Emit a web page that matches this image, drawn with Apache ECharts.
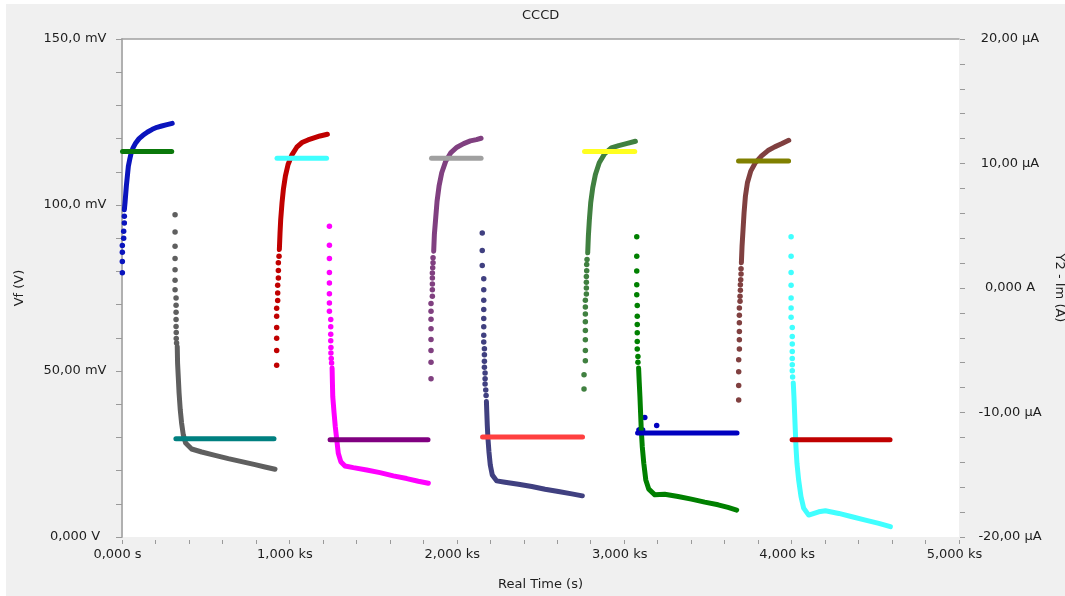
<!DOCTYPE html>
<html>
<head>
<meta charset="utf-8">
<title>CCCD</title>
<script src="https://cdn.jsdelivr.net/npm/echarts@6/dist/echarts.min.js"></script>
<style>
  html, body { margin: 0; padding: 0; background: #fff; }
  #main { position: absolute; left: 6px; top: 4px; width: 1059px; height: 592px; background: #f0f0f0; }
</style>
</head>
<body>
<div id="main"></div>
<script>
// tick labels
var timeLabels = ['0,000 s', '1,000 ks', '2,000 ks', '3,000 ks', '4,000 ks', '5,000 ks'];
var vfLabels = ['0,000 V', '50,00 mV', '100,0 mV', '150,0 mV'];
var imLabels = ['-20,00 µA', '-10,00 µA', '0,000 A', '10,00 µA', '20,00 µA'];

// t in s, Vf in mV, Im in µA
// cycle 1
var c1ChargeDots = [[2,79.6],[2,83.0],[2,85.8],[2,87.8],[10,90.0],[10,92.1],[14,94.6],[14,96.6]];
var c1Charge = [[14,98.6],[18,100.7],[22,103.2],[26,105.7],[30,107.7],[34,109.7],[38,111.7],[46,113.7],[54,115.5],[66,117.2],[82,118.7],[102,120.0],[125,121.0],[153,122.0],[181,122.8],[209,123.4],[237,123.8],[269,124.2],[300,124.6]];
var c1ChargeI = [[3,10.96],[297,10.96]];
var c1DischargeDots = [[317,97.1],[317,91.9],[317,87.6],[317,83.9],[317,80.5],[317,77.3],[317,74.5],[323,72.0],[323,69.8],[323,67.7],[323,65.5],[323,63.4],[324,61.6],[324,59.8],[326,58.4]];
var c1Discharge = [[330,57.4],[332,52.4],[336,48.4],[341,43.3],[348,38.3],[356,34.3],[366,30.8],[380,28.3],[416,26.5],[476,25.6],[556,24.6],[635,23.6],[715,22.7],[795,21.8],[854,21.1],[914,20.4]];
var c1DischargeI = [[322,-12.1],[908,-12.1]];

// cycle 2
var c2ChargeDots = [[924,51.7],[924,56.2],[924,59.9],[924,63.1],[924,66.5],[924,68.9],[930,71.2],[930,73.5],[930,75.8],[934,78.0],[934,80.3],[934,82.6],[938,84.6]];
var c2Charge = [[940,86.6],[944,91.6],[948,95.6],[956,100.7],[964,104.7],[976,108.7],[992,112.2],[1016,115.2],[1044,117.4],[1075,118.8],[1111,119.6],[1147,120.2],[1183,120.8],[1227,121.3]];
var c2ChargeI = [[926,10.43],[1222,10.43]];
var c2DischargeDots = [[1239,93.6],[1239,87.9],[1239,83.9],[1239,79.7],[1239,76.5],[1239,73.3],[1239,70.5],[1239,68.0],[1247,65.5],[1247,63.3],[1247,61.1],[1247,59.1],[1248,57.1],[1248,55.4],[1250,53.8],[1252,52.4]];
var c2Discharge = [[1255,50.9],[1257,46.4],[1259,42.3],[1267,37.3],[1274,33.3],[1283,29.3],[1292,25.2],[1307,22.7],[1332,21.4],[1382,20.9],[1462,20.2],[1541,19.4],[1621,18.4],[1701,17.6],[1770,16.8],[1830,16.2]];
var c2DischargeI = [[1243,-12.18],[1828,-12.18]];

// cycle 3
var c3ChargeDots = [[1846,47.7],[1846,52.6],[1846,56.2],[1846,59.5],[1846,62.7],[1846,65.6],[1846,68.0],[1846,70.3],[1854,72.5],[1854,74.5],[1854,76.2],[1854,78.0],[1854,79.5],[1856,81.1],[1858,82.6],[1858,84.1]];
var c3Charge = [[1862,86.1],[1866,91.1],[1874,96.1],[1882,101.1],[1894,105.7],[1910,109.7],[1934,113.2],[1965,115.8],[2001,117.4],[2041,118.5],[2081,119.3],[2117,119.7],[2145,120.1]];
var c3ChargeI = [[1849,10.43],[2145,10.43]];
var c3DischargeDots = [[2152,91.6],[2152,86.3],[2152,81.8],[2161,77.8],[2161,74.5],[2161,71.3],[2161,68.5],[2161,65.8],[2161,63.3],[2161,60.8],[2161,58.7],[2165,56.7],[2165,54.9],[2165,52.9],[2165,51.1],[2169,49.4],[2169,47.7],[2169,46.1],[2173,44.3],[2175,42.6]];
var c3Discharge = [[2177,40.8],[2179,37.8],[2182,33.8],[2186,29.8],[2192,25.7],[2200,21.7],[2212,18.7],[2238,16.9],[2288,16.5],[2368,15.9],[2448,15.2],[2527,14.4],[2607,13.7],[2687,13.0],[2750,12.4]];
var c3DischargeI = [[2154,-11.97],[2751,-11.97]];

// cycle 4
var c4ChargeDots = [[2760,44.6],[2760,48.9],[2768,53.1],[2768,56.2],[2768,59.4],[2768,62.2],[2768,64.8],[2768,67.2],[2768,69.3],[2768,71.3],[2774,73.2],[2774,75.0],[2774,76.7],[2774,78.5],[2776,80.2],[2776,82.1],[2778,83.6]];
var c4Charge = [[2782,85.6],[2786,90.6],[2792,95.6],[2800,100.7],[2812,105.2],[2828,109.2],[2851,112.7],[2884,115.5],[2923,117.2],[2967,117.9],[3013,118.5],[3067,119.2]];
var c4ChargeI = [[2763,10.96],[3063,10.96]];
var c4DischargeDots = [[3075,90.4],[3075,84.6],[3075,80.1],[3075,76.0],[3075,73.0],[3078,69.7],[3078,66.5],[3078,64.0],[3078,61.5],[3078,58.9],[3078,56.6],[3082,54.4],[3082,52.6]];
var c4Discharge = [[3086,50.9],[3090,46.4],[3094,42.3],[3098,37.3],[3102,32.3],[3108,27.2],[3117,22.2],[3129,17.2],[3147,14.4],[3183,12.7],[3242,12.9],[3322,12.2],[3401,11.4],[3481,10.5],[3561,9.7],[3620,8.9],[3672,8.1]];
var c4DischargeI = [[3080,-11.65],[3674,-11.65]];
var c4DischargeISpikes = [[3088,-11.4],[3098,-11.35],[3110,-11.4],[3123,-10.4],[3194,-11.05]];

// cycle 5
var c5ChargeDots = [[3684,41.3],[3684,45.6],[3684,49.8],[3684,53.4],[3688,56.6],[3688,59.4],[3688,61.9],[3688,64.5],[3688,66.8],[3688,69.0],[3692,71.0],[3692,72.5],[3694,74.3],[3694,76.0],[3696,77.5],[3698,79.2],[3698,80.8]];
var c5Charge = [[3700,82.6],[3704,87.6],[3710,92.6],[3716,97.6],[3724,102.6],[3736,106.7],[3756,110.2],[3783,112.7],[3819,114.7],[3859,116.4],[3899,117.5],[3943,118.5],[3983,119.5]];
var c5ChargeI = [[3683,10.21],[3982,10.21]];
var c5DischargeDots = [[3997,90.4],[3997,84.6],[3997,79.7],[3997,75.8],[3997,72.0],[3997,69.0],[3997,66.2],[4004,63.1],[4004,60.4],[4004,58.1],[4004,55.9],[4004,53.8],[4004,51.9],[4004,50.1],[4006,48.2]];
var c5Discharge = [[4010,46.4],[4014,42.3],[4018,37.3],[4022,32.3],[4026,27.2],[4032,22.2],[4042,17.2],[4056,12.2],[4072,8.7],[4102,6.6],[4162,7.6],[4202,7.9],[4282,7.1],[4361,6.1],[4441,5.1],[4521,4.1],[4590,3.1]];
var c5DischargeI = [[4003,-12.18],[4588,-12.18]];

var font = 'DejaVu Sans';
var txt = '#1e1e1e';
var tickCol = '#9a9a9a';

// colours: charge Vf, charge Im, discharge Vf, discharge Im
var cycles = [
  [c1ChargeDots, c1Charge, c1ChargeI, c1DischargeDots, c1Discharge, c1DischargeI, ['#0a14bd', '#0a780a', '#5f5f5f', '#008080']],
  [c2ChargeDots, c2Charge, c2ChargeI, c2DischargeDots, c2Discharge, c2DischargeI, ['#c00000', '#40ffff', '#ff00ff', '#800080']],
  [c3ChargeDots, c3Charge, c3ChargeI, c3DischargeDots, c3Discharge, c3DischargeI, ['#804080', '#a0a0a0', '#404080', '#ff4040']],
  [c4ChargeDots, c4Charge, c4ChargeI, c4DischargeDots, c4Discharge, c4DischargeI, ['#408040', '#ffff20', '#008000', '#0000c0']],
  [c5ChargeDots, c5Charge, c5ChargeI, c5DischargeDots, c5Discharge, c5DischargeI, ['#804040', '#808000', '#40ffff', '#c00000']]
];

function dots(data, color, axis) {
  return { type: 'scatter', data: data, yAxisIndex: axis, symbol: 'circle', symbolSize: 5.5,
           itemStyle: { color: color, opacity: 1 }, silent: true };
}
function trace(data, color, axis) {
  return { type: 'line', data: data, yAxisIndex: axis, showSymbol: false, symbol: 'none',
           lineStyle: { color: color, width: 5, cap: 'round', join: 'round' }, silent: true };
}

var series = [];
cycles.forEach(function (c) {
  var col = c[6];
  series.push(dots(c[0], col[0], 0));
  series.push(trace(c[1], col[0], 0));
  series.push(trace(c[2], col[1], 1));
  series.push(dots(c[3], col[2], 0));
  series.push(trace(c[4], col[2], 0));
  series.push(trace(c[5], col[3], 1));
});
series.push(dots(c4DischargeISpikes, '#0000c0', 1));

var labelStyle = { color: txt, fontSize: 13, fontFamily: font };

var myChart = echarts.init(document.getElementById('main'));
var option = {
  animation: false,
  textStyle: { fontFamily: font },
  title: {
    text: 'CCCD', left: 516, top: 5, padding: 0,
    textStyle: { color: txt, fontSize: 13, fontWeight: 'normal', fontFamily: font }
  },
  grid: {
    left: 116, top: 35, right: 106, bottom: 59,
    show: true, backgroundColor: '#ffffff', borderWidth: 0,
    containLabel: false, outerBoundsMode: 'none'
  },
  xAxis: [
    {
      type: 'value', min: 0, max: 5000, interval: 1000, position: 'bottom', offset: 3,
      axisLine: { show: false, onZero: false },
      axisTick: { show: true, length: 4, lineStyle: { color: tickCol } },
      minorTick: { show: true, splitNumber: 5, length: 4, lineStyle: { color: tickCol } },
      splitLine: { show: false }, minorSplitLine: { show: false },
      axisLabel: Object.assign({ margin: 8, padding: [0, 9, 0, 0], formatter: function (v) { return timeLabels[Math.round(v / 1000)]; } }, labelStyle),
      name: 'Real Time (s)', nameLocation: 'middle', nameGap: 38,
      nameTextStyle: labelStyle
    },
    {
      type: 'value', min: 0, max: 5000, position: 'top',
      axisLine: { show: true, onZero: false, lineStyle: { color: '#a0a0a0', width: 1.5 } },
      axisTick: { show: false }, axisLabel: { show: false }, splitLine: { show: false }
    }
  ],
  yAxis: [
    {
      type: 'value', min: 0, max: 150, interval: 50, position: 'left',
      axisLine: { show: true, onZero: false, lineStyle: { color: '#b0b0b0', width: 2 } },
      axisTick: { show: true, length: 6, lineStyle: { color: tickCol } },
      minorTick: { show: true, splitNumber: 5, length: 6, lineStyle: { color: tickCol } },
      splitLine: { show: false }, minorSplitLine: { show: false },
      axisLabel: Object.assign({ margin: 47, align: 'center', formatter: function (v) { return vfLabels[Math.round(v / 50)]; } }, labelStyle),
      name: 'Vf (V)', nameLocation: 'middle', nameGap: 96,
      nameTextStyle: labelStyle
    },
    {
      type: 'value', min: -20, max: 20, interval: 10, position: 'right', offset: 1,
      axisLine: { show: false, onZero: false },
      axisTick: { show: true, length: 5, lineStyle: { color: tickCol } },
      minorTick: { show: true, splitNumber: 5, length: 5, lineStyle: { color: tickCol } },
      splitLine: { show: false }, minorSplitLine: { show: false },
      axisLabel: Object.assign({ margin: 50, align: 'center', formatter: function (v) { return imLabels[Math.round((v + 20) / 10)]; } }, labelStyle),
      name: 'Y2 - Im (A)', nameLocation: 'middle', nameGap: 92, nameRotate: -90,
      nameTextStyle: labelStyle
    }
  ],
  series: series
};
myChart.setOption(option);
</script>
</body>
</html>
